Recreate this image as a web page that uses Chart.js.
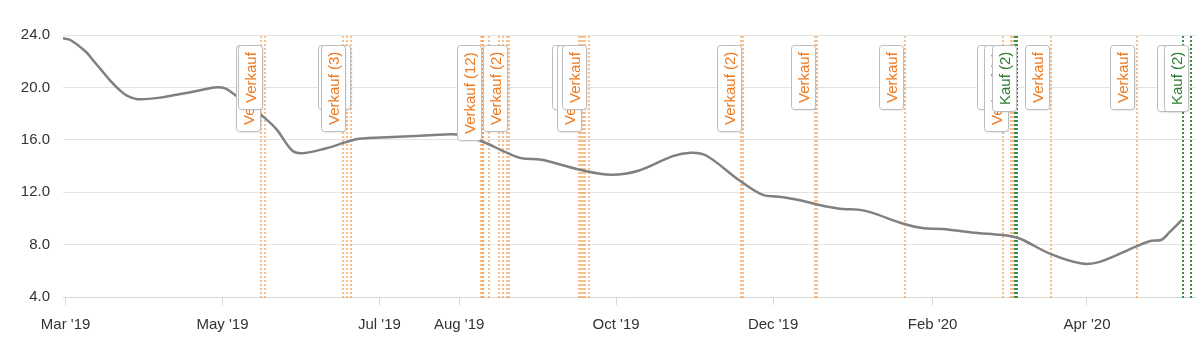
<!DOCTYPE html>
<html><head><meta charset="utf-8">
<script src="https://cdn.jsdelivr.net/npm/chart.js@4.4.1/dist/chart.umd.min.js"></script>
<style>html,body{margin:0;padding:0;background:#fff}#wrap{width:1200px;height:355px}</style>
</head><body><div id="wrap"><canvas id="c" width="1200" height="355"></canvas></div>
<script>
// ---- data ----
const dates = ['2019-02-28','2019-03-03','2019-03-09','2019-03-12','2019-03-15','2019-03-18','2019-03-22','2019-03-25','2019-03-29','2019-04-06','2019-04-19','2019-04-28','2019-05-02','2019-05-06','2019-05-16','2019-05-22','2019-05-28','2019-06-01','2019-06-10','2019-06-18','2019-06-23','2019-07-06','2019-07-24','2019-07-31','2019-08-09','2019-08-19','2019-08-25','2019-09-02','2019-09-17','2019-09-29','2019-10-10','2019-10-23','2019-10-30','2019-11-05','2019-11-18','2019-11-27','2019-12-03','2019-12-11','2019-12-19','2019-12-28','2020-01-03','2020-01-08','2020-01-21','2020-01-28','2020-02-05','2020-02-16','2020-02-28','2020-03-03','2020-03-07','2020-03-18','2020-03-30','2020-04-06','2020-04-20','2020-04-26','2020-04-30','2020-05-03','2020-05-08'];
const prices = [23.75,23.6,22.7,22.0,21.3,20.6,19.8,19.35,19.1,19.2,19.65,19.99,19.92,19.4,17.9,16.8,15.2,14.98,15.34,15.82,16.08,16.21,16.38,16.41,15.95,15.06,14.6,14.47,13.71,13.33,13.66,14.75,15.01,14.8,12.89,11.79,11.66,11.41,11.03,10.72,10.67,10.46,9.57,9.26,9.19,8.93,8.73,8.62,8.37,7.27,6.55,6.68,7.85,8.29,8.37,8.93,9.9];
const xEnd = '2020-05-13';
const tickDates = ['2019-03-01','2019-05-01','2019-07-01','2019-08-01','2019-10-01','2019-12-01','2020-02-01','2020-04-01'];
const tickLabels = ["Mar '19","May '19","Jul '19","Aug '19","Oct '19","Dec '19","Feb '20","Apr '20"];
const yTicks = [4,8,12,16,20,24];
const sellDates = ['2019-05-16','2019-05-17','2019-06-17','2019-06-18','2019-06-20','2019-08-09','2019-08-10','2019-08-10','2019-08-12','2019-08-16','2019-08-18','2019-08-19','2019-08-20','2019-09-16','2019-09-17','2019-09-18','2019-09-19','2019-09-20','2019-11-18','2019-11-19','2019-12-17','2019-12-18','2020-01-21','2020-02-28','2020-03-02','2020-03-03','2020-03-18','2020-04-20'];
const buyDates = ['2020-03-04','2020-03-05','2020-05-08','2020-05-11'];
// flags in drawing order (back to front)
const flagDates = ['2019-05-16','2019-05-17','2019-06-17','2019-06-20','2019-06-18','2019-08-10','2019-08-20','2019-09-16','2019-09-18','2019-09-20','2019-11-19','2019-12-18','2020-01-21','2020-02-28','2020-03-02','2020-03-05','2020-03-18','2020-04-20','2020-05-08','2020-05-11'];
const flagTexts = ['Verkauf (2)','Verkauf','Verkauf','Verkauf','Verkauf (3)','Verkauf (12)','Verkauf (2)','Verkauf','Verkauf (2)','Verkauf','Verkauf (2)','Verkauf','Verkauf','Verkauf','Verkauf (2)','Kauf (2)','Verkauf','Verkauf','Kauf (2)','Kauf (2)'];
const flagKinds = ['s','s','s','s','s','s','s','s','s','s','s','s','s','s','s','b','s','s','b','b'];

// ---- helpers ----
const DAY0 = Date.UTC(2019,2,1);
function dayOf(s){const p=s.split('-').map(Number);return (Date.UTC(p[0],p[1]-1,p[2])-DAY0)/864e5;}
const FONT = '"Liberation Sans", Arial, Helvetica, sans-serif';
const points = dates.map((d,i)=>({x:dayOf(d),y:prices[i]}));

const markers = {
  id:'markers',
  beforeDatasetsDraw(chart){
    const {ctx,chartArea:a,scales:{x}} = chart;
    ctx.save();
    const draw=(d,col)=>{
      let px=Math.round(x.getPixelForValue(dayOf(d)));
      if(px%2) px-=1;
      ctx.fillStyle=col;
      const y0=Math.ceil(a.top/2)*2;
      for(let y=y0;y<a.bottom;y+=4){ctx.fillRect(px,y,2,2);}
    };
    sellDates.forEach(d=>draw(d,'rgba(244,140,50,0.55)'));
    buyDates.forEach(d=>draw(d,'rgba(40,130,50,0.9)'));
    ctx.restore();
  },
  afterDatasetsDraw(chart){
    const {ctx,chartArea:a,scales:{x}} = chart;
    ctx.save();
    ctx.font='15px '+FONT;
    const top=a.top+10;
    flagDates.forEach((d,i)=>{
      const t=flagTexts[i];
      const w=ctx.measureText(t).width;
      const h=Math.round(w+13);
      const right=Math.round(x.getPixelForValue(dayOf(d))-1.5)+0.5;
      const left=right-24;
      ctx.save();
      ctx.shadowColor='rgba(0,0,0,0.12)';ctx.shadowBlur=2;ctx.shadowOffsetX=1;ctx.shadowOffsetY=1;
      ctx.beginPath();ctx.roundRect(left,top+0.5,24,h,3);
      ctx.fillStyle='#fff';ctx.fill();
      ctx.restore();
      ctx.beginPath();ctx.roundRect(left,top+0.5,24,h,3);
      ctx.strokeStyle='#bdbdbd';ctx.lineWidth=1;ctx.stroke();
      ctx.save();
      ctx.translate(left+12.5,top+h-6);
      ctx.rotate(-Math.PI/2);
      ctx.textAlign='left';ctx.textBaseline='middle';
      ctx.fillStyle=flagKinds[i]==='b'?'#2e7d32':'#ee7a22';
      ctx.fillText(t,0,1);
      ctx.restore();
    });
    ctx.restore();
  }
};

new Chart(document.getElementById('c'),{
  type:'line',
  data:{datasets:[{data:points,borderColor:'#808080',borderWidth:2.5,pointRadius:0,tension:0.35,fill:false}]},
  options:{
    responsive:false,animation:false,
    layout:{padding:{left:21,right:5,top:35,bottom:10}},
    plugins:{legend:{display:false},tooltip:{enabled:false}},
    scales:{
      x:{type:'linear',min:dayOf(dates[0]),max:dayOf(xEnd),
        afterBuildTicks:s=>{s.ticks=tickDates.map(d=>({value:dayOf(d)}));},
        ticks:{autoSkip:false,maxRotation:0,padding:11,color:'#333',font:{family:FONT,size:15},callback:(v,i)=>tickLabels[i]},
        grid:{drawOnChartArea:false,drawTicks:true,tickLength:8,color:'#d8d8d8'},
        border:{display:true,color:'#d8d8d8'}},
      y:{min:4,max:24,
        afterBuildTicks:s=>{s.ticks=yTicks.map(v=>({value:v}));},
        afterFit:s=>{s.width=42;},
        ticks:{padding:13,color:'#333',font:{family:FONT,size:15},callback:v=>Number(v).toFixed(1)},
        grid:{color:'#e3e3e3',drawTicks:false},
        border:{display:false}}
    }
  },
  plugins:[markers]
});
</script></body></html>
